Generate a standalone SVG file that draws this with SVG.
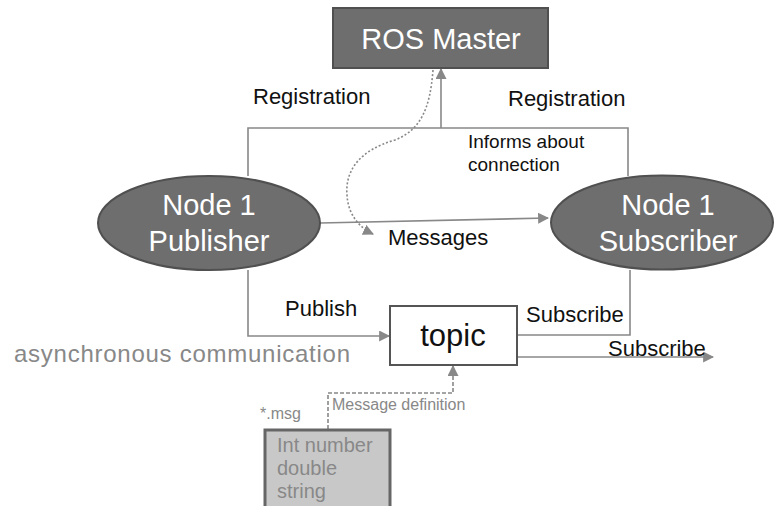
<svg xmlns="http://www.w3.org/2000/svg" width="774" height="506" viewBox="0 0 774 506">
<style>
text{font-family:"Liberation Sans",Arial,sans-serif}
.dark{fill:#6e6e6e;stroke:#505050;stroke-width:2}
.wt{fill:#fff;font-size:29px}
.lbl{fill:#111;font-size:22px}
.con{fill:none;stroke:#888;stroke-width:1.6}
.gray{fill:#888}
</style>
<defs>
<marker id="ah2" viewBox="0 0 10 10" refX="9" refY="5" markerWidth="11" markerHeight="11" markerUnits="userSpaceOnUse" orient="auto"><path d="M0,0 L10,5 L0,10 z" fill="#888"/></marker>
</defs>
<g id="connectors">
<path class="con" d="M248,176 V128 H628 V176"/>
<path class="con" d="M441,128 V69" marker-end="url(#ah2)"/>
<path class="con" d="M433,70 C430,110 420,130 395,140 C360,150 345,170 347,195 C348,215 360,228 373,234" stroke-dasharray="2,2" stroke-width="1.3" marker-end="url(#ah2)"/>
<path class="con" d="M320,223 L548,218" marker-end="url(#ah2)"/>
<path class="con" d="M248,270 V336 H389" marker-end="url(#ah2)"/>
<path class="con" d="M630,270 V335 H518"/>
<path class="con" d="M518,357 H713" marker-end="url(#ah2)"/>
<path class="con" d="M328,429 V393 H453 V366" stroke-dasharray="4,2" marker-end="url(#ah2)"/>
</g>
<g id="ros-master">
<rect class="dark" x="333" y="8" width="215" height="60"/>
<text class="wt" x="441" y="49" text-anchor="middle">ROS Master</text>
</g>
<g id="publisher">
<ellipse class="dark" cx="209" cy="223" rx="111" ry="47"/>
<text class="wt" x="209" y="215" text-anchor="middle">Node 1</text>
<text class="wt" x="209" y="251" text-anchor="middle">Publisher</text>
</g>
<g id="subscriber">
<ellipse class="dark" cx="662" cy="222.5" rx="111" ry="47"/>
<text class="wt" x="668" y="215" text-anchor="middle">Node 1</text>
<text class="wt" x="668" y="251" text-anchor="middle">Subscriber</text>
</g>
<g id="topic">
<rect x="390" y="306" width="127" height="59" fill="#fff" stroke="#555" stroke-width="2"/>
<text x="453" y="346" text-anchor="middle" font-size="31" fill="#111">topic</text>
</g>
<g id="msg">
<rect x="265" y="430" width="125" height="80" fill="#c8c8c8" stroke="#666" stroke-width="3"/>
<text class="gray" x="277" y="452" font-size="20">Int number</text>
<text class="gray" x="277" y="475" font-size="20">double</text>
<text class="gray" x="277" y="498" font-size="20">string</text>
</g>
<g id="labels">
<text class="lbl" x="253" y="104">Registration</text>
<text class="lbl" x="508" y="106">Registration</text>
<text x="468" y="148" font-size="19" fill="#111">Informs about</text>
<text x="468" y="171" font-size="19" fill="#111">connection</text>
<text class="lbl" x="388" y="245">Messages</text>
<text class="lbl" x="285" y="316">Publish</text>
<text class="lbl" x="526" y="322">Subscribe</text>
<text class="lbl" x="608" y="356">Subscribe</text>
<text class="gray" x="14" y="362" font-size="24" textLength="336" lengthAdjust="spacing">asynchronous  communication</text>
<text class="gray" x="332" y="410" font-size="16">Message definition</text>
<text class="gray" x="260" y="419" font-size="16">*.msg</text>
</g>
</svg>
